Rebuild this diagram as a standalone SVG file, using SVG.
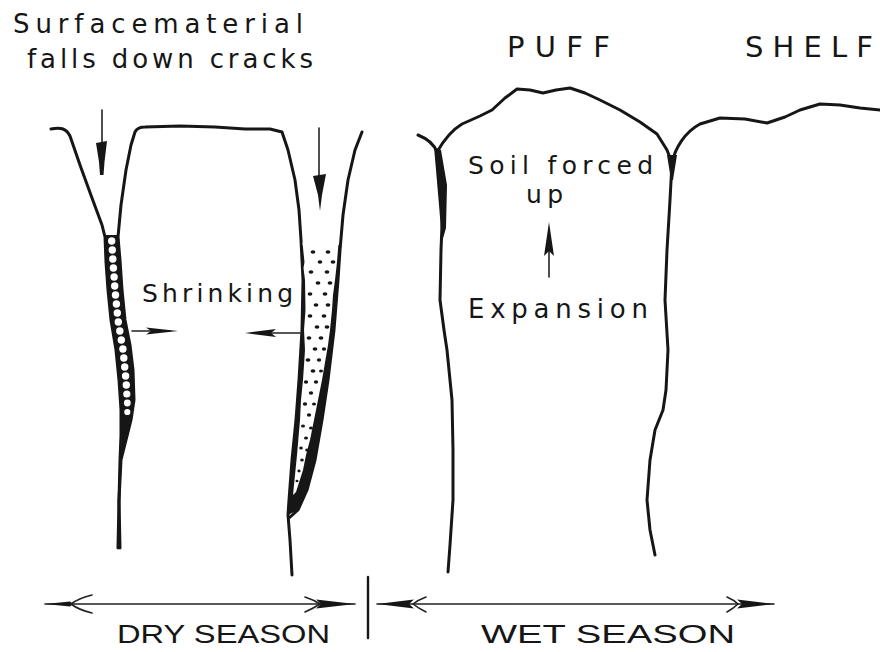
<svg xmlns="http://www.w3.org/2000/svg" width="880" height="652" viewBox="0 0 880 652">
  <style>
    .ln { fill: none; stroke: #161616; stroke-width: 3; stroke-linecap: round; stroke-linejoin: round; }
    .thin { fill: none; stroke: #222; stroke-width: 1.6; stroke-linecap: round; }
    .ink { fill: #161616; stroke: none; }
    .hole { fill: #fff; stroke: none; }
    .lbl { font-family: "DejaVu Sans", "Liberation Sans", sans-serif; fill: #161616; font-weight: normal; }
    .cap { font-family: "Liberation Sans", "DejaVu Sans", sans-serif; fill: #161616; }
  </style>
  <rect width="880" height="652" fill="#fff"/>

  <!-- Dry season: soil blocks separated by open cracks -->
  <g id="dry-season">
    <!-- left crack: outer wall -->
    <path class="ln" d="M51,129 C60,127 66,128 70,136 L80,165 L92,198 L102,225 L105,237 L106,262 L108,290 L111,320 L116,350 L119,380 L121,410 L121,435 L120,460 L119,500 L120,548"/>
    <!-- central block -->
    <path class="ln" d="M118,548 L119,500 L121,460 L126,440 L131,420 L134,400 L133,370 L130,345 L125,320 L122,290 L120,260 L118,237 L121,205 L126,170 L131,145 L135,132 C137,128 140,127 145,127 L180,126 L215,127 L245,129 L270,129 L282,132 L288,150 L295,180 L299,210 L301,240 L303,280 L302,330 L299,380 L296,420 L292,460 L289,500 L288,515 L290,540 L292,575"/>
    <!-- right crack: outer wall -->
    <path class="ln" d="M362,132 L355,150 L348,180 L343,215 L340,250 L338,280 L334,330 L328,380 L322,420 L315,460 L307,490 L298,510 L289,518"/>

    <!-- left crack fill: beaded material -->
    <polygon class="ink" points="104,235 106,262 108,290 111,320 116,350 119,380 121,410 121,435 120,460 121,460 126,440 131,420 134,400 133,370 130,345 125,320 122,290 120,262 119,235"/>
    <g class="hole">
      <circle cx="111.7" cy="241" r="3.7"/><circle cx="112.3" cy="250" r="3.7"/><circle cx="112.8" cy="259" r="3.7"/>
      <circle cx="113.4" cy="268" r="3.7"/><circle cx="114.1" cy="277" r="3.7"/><circle cx="114.7" cy="286" r="3.7"/>
      <circle cx="115.5" cy="295" r="3.7"/><circle cx="116.4" cy="304" r="3.7"/><circle cx="117.3" cy="313" r="3.7"/>
      <circle cx="118.3" cy="322" r="3.7"/><circle cx="119.8" cy="331" r="3.7"/><circle cx="121.3" cy="340" r="3.7"/>
      <circle cx="122.9" cy="349" r="3.7"/><circle cx="123.8" cy="358" r="3.7"/><circle cx="124.7" cy="367" r="3.7"/>
      <circle cx="125.6" cy="376" r="3.7"/><circle cx="126.3" cy="385" r="3.7"/><circle cx="126.8" cy="394" r="3.6"/>
      <circle cx="127.3" cy="403" r="3.4"/><circle cx="127.3" cy="412" r="3.1"/>
    </g>

    <!-- right crack fill: stippled material -->
    <polygon class="ink" points="301,245 303,280 302,330 299,380 296,420 292,460 289,500 288,515 298,510 307,490 315,460 322,420 328,380 334,330 338,280 340,245"/>
    <polygon class="hole" points="302.5,243 304.5,262 303.5,268 305,280 305.5,310 304,330 305,350 303,380 301,400 300,420 297,455 294,485 293,495 296,492 303,470 306,455 310,440 313,425 316,410 319,395 322,380 328,345 330,330 332,310 333,295 335,280 337,262 338.5,243"/>
    <g class="ink">
      <ellipse cx="313" cy="252" rx="2.4" ry="1.7"/><ellipse cx="328" cy="252" rx="2.4" ry="1.7"/>
      <ellipse cx="320" cy="262" rx="2.4" ry="1.7"/><ellipse cx="333" cy="262" rx="2.4" ry="1.7"/>
      <ellipse cx="311" cy="272" rx="2.4" ry="1.7"/><ellipse cx="327" cy="272" rx="2.4" ry="1.7"/>
      <ellipse cx="318" cy="283" rx="2.4" ry="1.7"/><ellipse cx="330" cy="283" rx="2.4" ry="1.7"/>
      <ellipse cx="310" cy="294" rx="2.4" ry="1.7"/><ellipse cx="325" cy="294" rx="2.4" ry="1.7"/>
      <ellipse cx="316" cy="305" rx="2.4" ry="1.7"/><ellipse cx="328" cy="305" rx="2.4" ry="1.7"/>
      <ellipse cx="310" cy="316" rx="2.4" ry="1.7"/><ellipse cx="324" cy="316" rx="2.4" ry="1.7"/>
      <ellipse cx="317" cy="327" rx="2.4" ry="1.7"/><ellipse cx="327" cy="327" rx="2.4" ry="1.7"/>
      <ellipse cx="309" cy="338" rx="2.4" ry="1.7"/><ellipse cx="321" cy="338" rx="2.4" ry="1.7"/>
      <ellipse cx="315" cy="349" rx="2.4" ry="1.7"/><ellipse cx="324" cy="349" rx="2.2" ry="1.7"/>
      <ellipse cx="308" cy="360" rx="2.4" ry="1.7"/><ellipse cx="319" cy="360" rx="2.2" ry="1.7"/>
      <ellipse cx="313" cy="371" rx="2.4" ry="1.7"/><ellipse cx="321" cy="371" rx="2" ry="1.6"/>
      <ellipse cx="306" cy="382" rx="2.2" ry="1.7"/><ellipse cx="316" cy="382" rx="2.2" ry="1.7"/>
      <ellipse cx="311" cy="393" rx="2.2" ry="1.7"/>
      <ellipse cx="305" cy="404" rx="2.2" ry="1.7"/><ellipse cx="314" cy="404" rx="2" ry="1.6"/>
      <ellipse cx="309" cy="415" rx="2.2" ry="1.7"/>
      <ellipse cx="303" cy="426" rx="2" ry="1.6"/><ellipse cx="311" cy="428" rx="2" ry="1.6"/>
      <ellipse cx="306" cy="438" rx="2" ry="1.6"/>
      <ellipse cx="301" cy="448" rx="1.8" ry="1.5"/><ellipse cx="307" cy="450" rx="1.8" ry="1.5"/>
      <ellipse cx="302" cy="460" rx="1.8" ry="1.5"/>
      <ellipse cx="299" cy="471" rx="1.6" ry="1.4"/>
      <ellipse cx="297" cy="481" rx="1.5" ry="1.3"/>
    </g>
  </g>

  <!-- Wet season: swollen soil forms a puff beside a shelf -->
  <g id="wet-season">
    <path class="ln" d="M418,135 C428,139 434,144 437,152 L440,175 L443,200 L441,250 L440,300 L444,330 L447,350 L452,400 L453,450 L453,500 L450,545 L448,572"/>
    <polygon class="ink" points="434,147 441,150 447,185 446,228 442,242 439,205 436,170"/>
    <path class="ln" d="M437,152 C445,138 452,130 462,124 L480,116 L492,110 L505,98 L517,89 L530,90 L543,93 L556,90 L570,88 L585,93 L600,100 L620,110 L640,122 L657,134 L667,150 L672,163"/>
    <path class="ln" d="M672,163 L670,200 L667,250 L665,300 L668,350 L666,390 L663,410 L655,430 L650,460 L647,500 L650,530 L655,555"/>
    <polygon class="ink" points="667,155 677,155 673,180 671,180"/>
    <path class="ln" d="M672,163 C675,148 685,132 700,124 L720,118 L745,119 L767,123 L785,117 L800,110 L820,104 L840,105 L860,108 L880,110"/>
  </g>

  <!-- Arrows -->
  <g id="connectors">
    <!-- material falling into the cracks -->
    <path class="thin" d="M102,110 L102,145"/>
    <polygon class="ink" points="96,143 107,141 104.5,162 103.5,175 100,175 99,162"/>
    <path class="thin" d="M319,128 L319,180"/>
    <polygon class="ink" points="313,176 326,174 322,195 320,211 318,195"/>
    <!-- shrinking -->
    <path class="thin" d="M132,331 L170,331"/>
    <polygon class="ink" points="146,327.5 178,331 146,334.5 151,331"/>
    <path class="thin" d="M302,333 L262,333"/>
    <polygon class="ink" points="245,333 276,329 271,333 276,337"/>
    <!-- expansion -->
    <path class="thin" d="M549,277 L549,240"/>
    <polygon class="ink" points="549,222 554,256 549,251 544,256"/>
    <!-- season spans -->
    <path class="thin" d="M45,604 L355,604"/>
    <polygon class="ink" points="45,604 70,601.5 73,604 70,606.5"/>
    <path class="thin" d="M92,595 Q79,598 71,604 Q79,610 92,613"/>
    <path class="thin" d="M305,597 Q314,600 320,604 Q314,608 305,612"/>
    <polygon class="ink" points="316,599.5 355,604 316,608.5 321,604"/>
    <path class="ln" style="stroke-width:2.4" d="M368,577 L368,638"/>
    <path class="thin" d="M377,604 L774,604"/>
    <polygon class="ink" points="377,604 414,599.5 409,604 414,608.5"/>
    <path class="thin" d="M426,597 Q418,600 413,604 Q418,608 426,612"/>
    <polygon class="ink" points="774,604 737,599.5 742,604 737,608.5"/>
    <path class="thin" d="M727,597 Q734,600 738,604 Q734,608 727,612"/>
  </g>

  <!-- Labels -->
  <g id="labels">
    <text class="lbl" x="13" y="33" font-size="26" textLength="290" lengthAdjust="spacing">Surfacematerial</text>
    <text class="lbl" x="27" y="68" font-size="26" textLength="286" lengthAdjust="spacing">falls down cracks</text>
    <text class="lbl" x="142" y="302" font-size="25" textLength="151" lengthAdjust="spacing">Shrinking</text>
    <text class="lbl" x="507" y="57" font-size="29" textLength="103" lengthAdjust="spacing">PUFF</text>
    <text class="lbl" x="745" y="57" font-size="29" textLength="128" lengthAdjust="spacing">SHELF</text>
    <text class="lbl" x="468" y="174" font-size="25" textLength="185" lengthAdjust="spacing">Soil forced</text>
    <text class="lbl" x="526" y="203" font-size="25" textLength="37" lengthAdjust="spacing">up</text>
    <text class="lbl" x="468" y="318" font-size="26" textLength="180" lengthAdjust="spacing">Expansion</text>
    <text class="cap" x="117" y="643" font-size="25" textLength="213" lengthAdjust="spacingAndGlyphs">DRY SEASON</text>
    <text class="cap" x="481" y="643" font-size="25" textLength="254" lengthAdjust="spacingAndGlyphs">WET SEASON</text>
  </g>
</svg>
